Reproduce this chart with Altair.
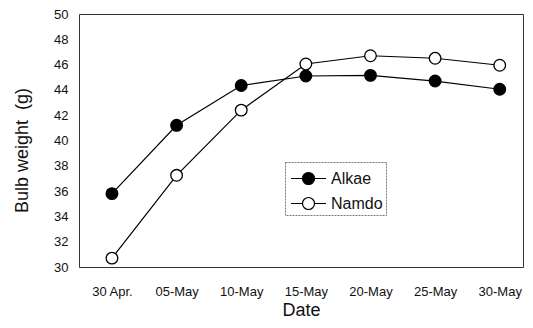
import json
import altair as alt
import pandas as pd

dates = ["30 Apr.", "05-May", "10-May", "15-May", "20-May", "25-May", "30-May"]
alkae = [35.8, 41.2, 44.35, 45.1, 45.15, 44.7, 44.05]
namdo = [30.7, 37.25, 42.4, 46.05, 46.7, 46.5, 45.95]
series_names = ["Alkae", "Namdo"]
y_ticks = list(range(30, 51, 2))

rows = []
for name, vals in zip(series_names, [alkae, namdo]):
    for i, (d, v) in enumerate(zip(dates, vals)):
        rows.append({"idx": i, "date": d, "weight": v, "series": name})
df = pd.DataFrame(rows)

label_expr = json.dumps(dates) + "[datum.value]"

x_enc = alt.X(
    "idx:Q",
    scale=alt.Scale(domain=[-0.51, 6.36], nice=False, zero=False),
    axis=alt.Axis(
        title="Date",
        values=list(range(len(dates))),
        labelExpr=label_expr,
        grid=False,
        ticks=False,
        domain=False,
        labelPadding=18,
        labelFontSize=13,
        titleFontSize=18,
        titleFontWeight="normal",
        titlePadding=3,
        labelFont="Liberation Sans",
        titleFont="Liberation Sans",
        labelColor="#111",
        titleColor="#111",
    ),
)
y_enc = alt.Y(
    "weight:Q",
    scale=alt.Scale(domain=[30, 50], nice=False, zero=False),
    axis=alt.Axis(
        title="Bulb weight \u00a0(g)",
        values=y_ticks,
        grid=False,
        ticks=False,
        domain=False,
        labelPadding=11,
        labelFontSize=13,
        titleFontSize=18,
        titleFontWeight="normal",
        titlePadding=22,
        titleY=136,
        labelFont="Liberation Sans",
        titleFont="Liberation Sans",
        labelColor="#111",
        titleColor="#111",
    ),
)

legend_path = (
    "M-1.4,0 L-0.48,0 M0.48,0 L1.4,0 "
    "M-0.48,0 A0.48,0.48 0 1,1 0.48,0 A0.48,0.48 0 1,1 -0.48,0 Z"
)

lines = alt.Chart(df).mark_line(color="black", strokeWidth=1.2).encode(
    x=x_enc, y=y_enc, detail="series:N"
)

points = alt.Chart(df).mark_point(
    shape="circle", size=135, stroke="black", strokeWidth=1.3, opacity=1
).encode(
    x=x_enc,
    y=y_enc,
    fill=alt.Fill(
        "series:N",
        scale=alt.Scale(domain=series_names, range=["black", "white"]),
        legend=alt.Legend(
            title=None,
            orient="none",
            legendX=206,
            legendY=148,
            symbolType=legend_path,
            symbolSize=625,
            symbolOffset=7,
            symbolStrokeColor="black",
            symbolStrokeWidth=1.2,
            labelFontSize=16,
            labelFont="Liberation Sans",
            labelColor="#111",
            labelOffset=9,
            padding=3,
            rowPadding=3,
            strokeColor="#777",
        ),
    ),
)

chart = (
    alt.layer(lines, points)
    .properties(
        width=444,
        height=253,
        autosize=alt.AutoSizeParams(type="none"),
        padding={"left": 71, "top": 6, "right": 2, "bottom": 60},
    )
    .configure_view(stroke="#333", strokeWidth=1)
    .configure_legend(strokeDash=[2, 1], strokeWidth=1)
)

chart.save("out.html", embed_options={"renderer": "svg", "actions": False})
